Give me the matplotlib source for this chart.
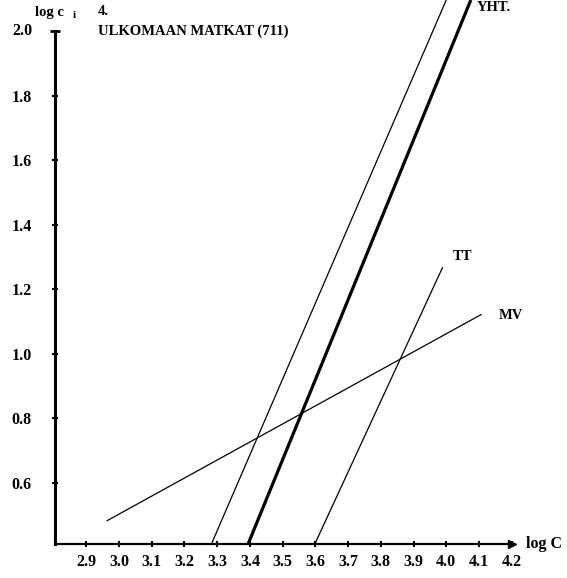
import matplotlib
matplotlib.use('Agg')
import matplotlib.pyplot as plt
import numpy as np

# line endpoints (log C, log c_i)
names = ['', 'YHT.', 'TT', 'MV']
x0 = [3.283, 3.395, 3.599, 2.962]
y0 = [0.411, 0.411, 0.411, 0.481]
x1 = [4.000, 4.075, 3.989, 4.108]
y1 = [2.097, 2.097, 1.268, 1.122]
widths = [0.9, 2.3, 0.9, 0.9]

xticks = [2.9, 3.0, 3.1, 3.2, 3.3, 3.4, 3.5, 3.6, 3.7, 3.8, 3.9, 4.0, 4.1, 4.2]
yticks = [0.6, 0.8, 1.0, 1.2, 1.4, 1.6, 1.8, 2.0]

plt.rcParams['font.family'] = ['Liberation Serif', 'DejaVu Serif']
plt.rcParams['font.weight'] = 'bold'

fig = plt.figure(figsize=(5.67, 5.78), dpi=100)
ax = fig.add_axes([54.6 / 567, 1 - 543.5 / 578, 1 - 54.6 / 567, 543.5 / 578])
ax.set_xlim(2.803, 4.369)
ax.set_ylim(0.411, 2.097)

for i in range(len(names)):
    ax.plot([x0[i], x1[i]], [y0[i], y1[i]], color='black', lw=widths[i],
            solid_capstyle='butt')

for s in ['top', 'right']:
    ax.spines[s].set_visible(False)
ax.spines['left'].set_linewidth(2.2)
ax.spines['left'].set_bounds(0.411, 2.0)
ax.spines['bottom'].set_linewidth(1.6)
ax.spines['bottom'].set_bounds(2.803, 4.2)
ax.plot([4.2], [0.411], marker='>', color='black', ms=6, clip_on=False)
ax.plot([2.803], [2.0], marker='_', color='black', ms=7, mew=2, clip_on=False)

ax.set_xticks(xticks)
ax.set_xticklabels(['%.1f' % v for v in xticks])
ax.set_yticks(yticks[:-1])
ax.set_yticklabels(['%.1f' % v for v in yticks[:-1]])
ax.tick_params(axis='x', direction='inout', length=5, width=1.5, pad=5,
               labelsize=11.5)
ax.tick_params(axis='y', direction='inout', length=5, width=1.5, pad=14,
               labelsize=11.5)
for t in ax.get_xticklabels() + ax.get_yticklabels():
    t.set_fontweight('bold')

ax.text(2.673, 2.0, '2.0', fontsize=11.5, fontweight='bold', va='center',
        ha='left', clip_on=False)
ax.text(2.744, 2.058, 'log c', fontsize=10.5, fontweight='bold', va='center',
        clip_on=False)
ax.text(2.857, 2.05, 'i', fontsize=8, fontweight='bold', va='center',
        clip_on=False)
ax.text(2.936, 2.06, '4.', fontsize=10.5, fontweight='bold', va='center')
ax.text(2.936, 2.0, 'ULKOMAAN MATKAT (711)', fontsize=10.5, fontweight='bold',
        va='center')
ax.text(4.094, 2.075, 'YHT.', fontsize=10.5, fontweight='bold', va='center')
ax.text(4.02, 1.30, 'TT', fontsize=10.5, fontweight='bold', va='center')
ax.text(4.16, 1.117, 'MV', fontsize=10.5, fontweight='bold', va='center')
ax.text(4.243, 0.411, 'log C', fontsize=11.5, fontweight='bold', va='center',
        clip_on=False)

fig.savefig('out.png', dpi=100)
